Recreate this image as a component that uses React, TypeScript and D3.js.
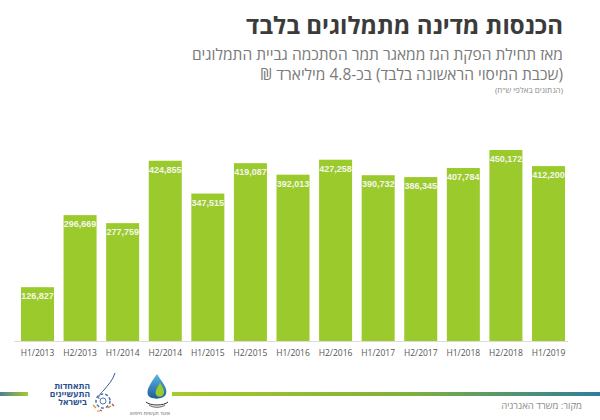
import React from 'react';
import * as d3 from 'd3';

// Royalty income per half-year, thousands of NIS
const periods = [
  'H1/2013', 'H2/2013', 'H1/2014', 'H2/2014', 'H1/2015', 'H2/2015', 'H1/2016',
  'H2/2016', 'H1/2017', 'H2/2017', 'H1/2018', 'H2/2018', 'H1/2019',
];
const royalties = [
  126827, 296669, 277759, 424855, 347515, 419087, 392013,
  427258, 390732, 386345, 407784, 450172, 412200,
];

const titleText = 'הכנסות מדינה מתמלוגים בלבד';
const subtitleLines = [
  'מאז תחילת הפקת הגז ממאגר תמר הסתכמה גביית התמלוגים',
  '(שכבת המיסוי הראשונה בלבד) בכ-4.8 מיליארד ₪',
];
const unitNote = '(הנתונים באלפי ש"ח)';
const sourceNote = 'מקור: משרד האנרגיה';
const logoAssociation = ['התאחדות', 'התעשיינים', 'בישראל'];
const logoExploration = 'איגוד תעשיות חיפוש';

const W = 600;
const H = 420;
const HEB = "'Open Sans', 'Liberation Sans', 'DejaVu Sans', sans-serif";
const RIGHT = 563;

export default function App() {
  const x = d3.scaleBand<string>()
    .domain(periods)
    .range([16.2, 569.8])
    .paddingInner(0.225)
    .paddingOuter(0.1125);
  const y = d3.scaleLinear()
    .domain([0, d3.max(royalties) as number])
    .range([341, 150]);
  const fmt = d3.format(',');
  const baseY = y(0);

  return (
    <svg width={W} height={H} style={{ position: 'absolute', left: 0, top: 0, background: '#fff' }}>
      <defs>
        <linearGradient id="rule-long" x1="0" x2="1" y1="0" y2="0">
          <stop offset="0" stopColor="#a8cb2a" />
          <stop offset="0.55" stopColor="#7fb13a" />
          <stop offset="1" stopColor="#2f7d9c" />
        </linearGradient>
        <linearGradient id="rule-short" x1="0" x2="1" y1="0" y2="0">
          <stop offset="0" stopColor="#4f7f9a" />
          <stop offset="1" stopColor="#a8cb2a" />
        </linearGradient>
        <linearGradient id="drop-blue" x1="0" x2="0" y1="0" y2="1">
          <stop offset="0" stopColor="#5bb6e0" />
          <stop offset="1" stopColor="#1d5d9b" />
        </linearGradient>
      </defs>

      {/* Heading */}
      <text x={RIGHT} y={34} direction="rtl" textAnchor="start" fontFamily={HEB}
        fontWeight={700} fontSize={24} fill="#3b3b3b">{titleText}</text>
      {subtitleLines.map((line, i) => (
        <text key={i} x={RIGHT} y={60 + i * 20} direction="rtl" textAnchor="start"
          fontFamily={HEB} fontSize={15.5} fill="#7a7a7a">{line}</text>
      ))}
      <text x={RIGHT} y={93} direction="rtl" textAnchor="start" fontFamily={HEB}
        fontSize={8} fill="#8a8a8a">{unitNote}</text>

      {/* Bars */}
      {royalties.map((v, i) => (
        <rect key={periods[i]} x={x(periods[i])} y={y(v)} width={x.bandwidth()}
          height={baseY - y(v)} fill="#9bca2c" />
      ))}
      {royalties.map((v, i) => (
        <text key={'v' + i} x={(x(periods[i]) as number) + x.bandwidth() / 2} y={y(v) + 12}
          textAnchor="middle" fontFamily="'Liberation Sans', Arial, sans-serif" fontWeight={700}
          fontSize={9} fill="#f4f7ec">{fmt(v)}</text>
      ))}
      <line x1={14} x2={568} y1={baseY + 0.5} y2={baseY + 0.5} stroke="#dcdcdc" />
      {periods.map((p) => (
        <text key={p} x={(x(p) as number) + x.bandwidth() / 2} y={356} textAnchor="middle"
          fontFamily="'Open Sans', 'Liberation Sans', sans-serif" fontSize={8.5} fill="#555">{p}</text>
      ))}

      {/* Footer rules */}
      <rect x={0} y={392} width={28} height={4} fill="url(#rule-short)" />
      <rect x={172} y={392} width={428} height={4} fill="url(#rule-long)" />
      <text x={582} y={409} direction="rtl" textAnchor="start" fontFamily={HEB}
        fontSize={9.5} fill="#8a8a8a">{sourceNote}</text>

      {/* Manufacturers association emblem */}
      <g>
        {logoAssociation.map((t, i) => (
          <text key={t} x={i === 2 ? 87 : 90} y={389 + i * 8} direction="rtl" textAnchor="start"
            fontFamily={HEB} fontWeight={700} fontSize={8.5} fill="#2b4f8e">{t}</text>
        ))}
        <path d="M115,373 C113,380 108,385 104,390 C100,394 98,396 99,399" fill="none"
          stroke="#3b5f95" strokeWidth={1} />
        <circle cx={103} cy={401} r={7} fill="none" stroke="#5778a8" strokeWidth={1.6}
          strokeDasharray="3 2" />
        <circle cx={103} cy={401} r={3} fill="none" stroke="#5778a8" strokeWidth={1} />
        <path d="M93,405 l3,3 M108,408 l3,-2 M97,411 l3,0" stroke="#e08a2a" strokeWidth={1.2} />
        <path d="M112,404 l2,2 M100,410 l2,1" stroke="#d0413a" strokeWidth={1.2} />
      </g>

      {/* Exploration industry emblem */}
      <g>
        <path d="M157,374 C150,384 146,390 148,395 C150,400 164,400 166,394 C168,388 162,382 157,374 Z"
          fill="url(#drop-blue)" />
        <path d="M160,383 C156,389 154,393 157,396 C160,398 164,396 164,392 C164,389 162,386 160,383 Z"
          fill="#9bca2c" />
        <path d="M146,402 C150,406 164,406 168,402" fill="none" stroke="#333" strokeWidth={1} />
        <path d="M149,405 C153,408 161,408 165,405" fill="none" stroke="#333" strokeWidth={0.8} />
        <text x={170} y={415} direction="rtl" textAnchor="start" fontFamily={HEB}
          fontSize={5} fill="#666">{logoExploration}</text>
      </g>
    </svg>
  );
}
